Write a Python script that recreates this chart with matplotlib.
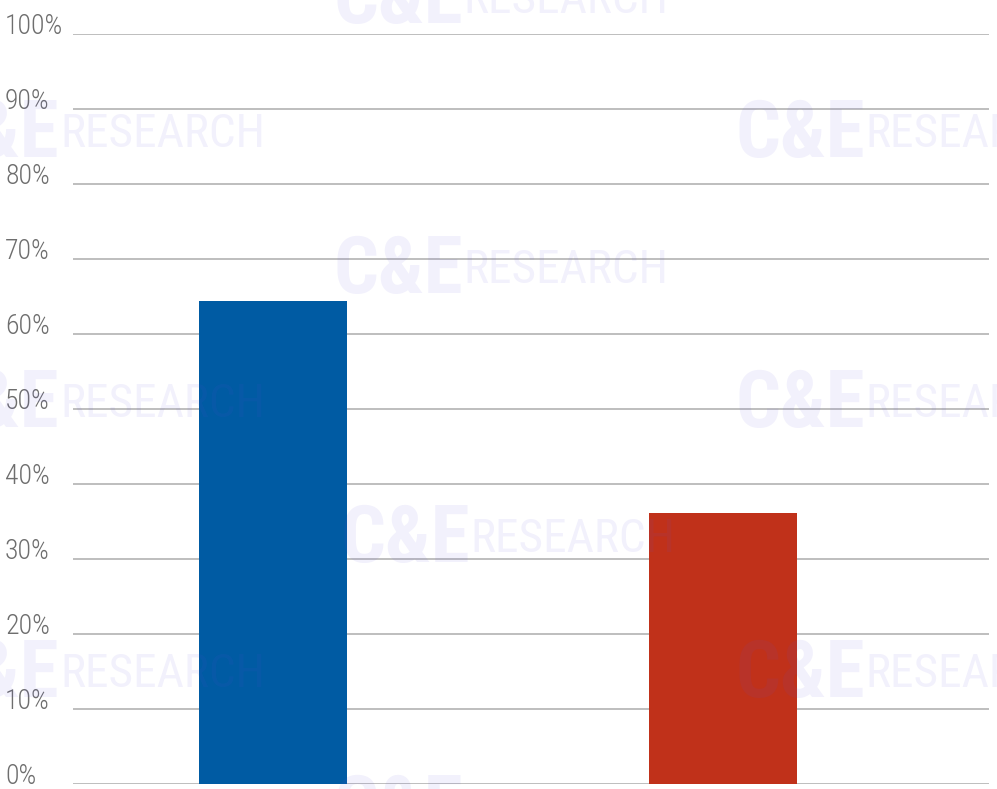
import numpy as np
import matplotlib
matplotlib.use("Agg")
import matplotlib.pyplot as plt

# data
categories = ["A", "B"]
values = [64.4, 36.1]
bar_colors = ["#005ba3", "#c0311a"]
y_ticks = list(range(0, 101, 10))
y_labels = [f"{t}%" for t in y_ticks]

W, H = 997, 789
FONT = ["Roboto Condensed", "Roboto", "DejaVu Sans"]


def px(x, y):
    return x / W, 1 - y / H


def watermark(fig, x, y):
    fx, fy = px(x, y)
    fig.text(fx, fy, "C&E", family=FONT, weight="bold", fontsize=57,
             color="#5b4de0", alpha=0.08, ha="left", va="baseline")
    fx2, fy2 = px(x + 130, y - 10)
    fig.text(fx2, fy2, "RESEARCH", family=FONT, fontsize=34,
             color="#5b4de0", alpha=0.08, ha="left", va="baseline")


def main():
    fig = plt.figure(figsize=(W / 100, H / 100), dpi=100)
    left, top = px(73, 34)
    right, bottom = px(989, 784)
    ax = fig.add_axes([left, bottom, right - left, top - bottom])

    x = np.arange(len(categories))
    ax.bar(x, values, width=0.329, color=bar_colors, zorder=3)

    ax.set_xlim(-0.444, 1.591)
    ax.set_ylim(0, 100)
    ax.set_yticks(y_ticks)
    ax.set_yticklabels(y_labels, family=FONT, fontsize=20, weight="light",
                       color="#6e6e6e", ha="left", va="baseline")
    ax.tick_params(axis="y", length=0, pad=68 * 0.72)
    ax.set_xticks([])
    ax.grid(axis="y", color="#b3b3b3", linewidth=1.2, zorder=0)
    ax.set_axisbelow(True)
    for s in ax.spines.values():
        s.set_visible(False)

    # faint tiled logo watermark
    for xx, yy in [(333, 23), (-70, 157), (735, 157), (333, 293),
                   (-70, 427), (735, 427), (340, 562), (-70, 697),
                   (735, 697), (333, 832)]:
        watermark(fig, xx, yy)

    fig.savefig("out.png", dpi=100)


if __name__ == "__main__":
    main()
